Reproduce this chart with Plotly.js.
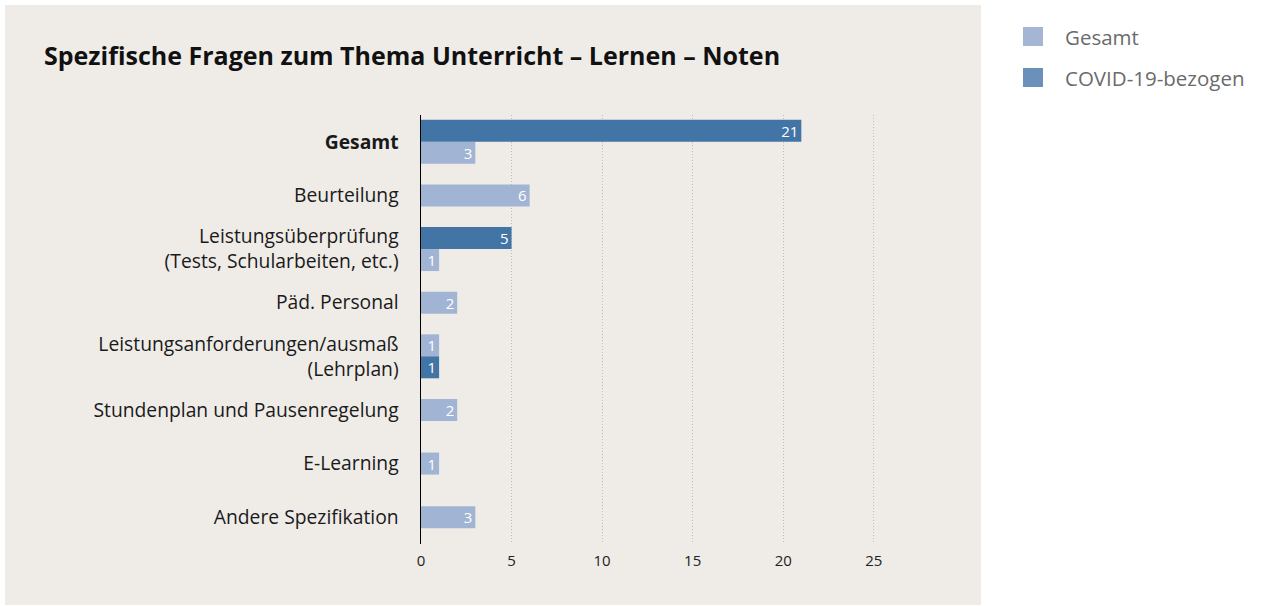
<!DOCTYPE html>
<html>
<head>
<meta charset="utf-8">
<script src="https://cdn.plot.ly/plotly-3.0.1.min.js"></script>
<style>
  html, body { margin: 0; padding: 0; background: #fff; }
  #chart { width: 1264px; height: 606px; }
</style>
</head>
<body>
<div id="chart"></div>
<script>
// categories top to bottom
var categories = [
  '<b>Gesamt</b>',
  'Beurteilung',
  'Leistungsüberprüfung<br>(Tests, Schularbeiten, etc.)',
  'Päd. Personal',
  'Leistungsanforderungen/ausmaß<br>(Lehrplan)',
  'Stundenplan und Pausenregelung',
  'E-Learning',
  'Andere Spezifikation'
];
var gesamt = [3, 6, 1, 2, 1, 2, 1, 3];
var covid = [21, null, 5, null, 1, null, null, null];
// which bar sits on top when both are there
var covidOnTop = [true, false, true, false, false, false, false, false];

var xTicks = [0, 5, 10, 15, 20, 25];

var LIGHT = '#a2b4d3';
var DARK = '#4275a6';
var FONT = '"Open Sans", "Noto Sans", sans-serif';

// plot area in pixels
var W = 1264, H = 606;
var L = 421, R = 910, T = 115, B = 544;
function px(x) { return (x - L) / (R - L); }
function py(y) { return (B - y) / (B - T); }

var bw = 0.41;
var offG = [], offC = [];
for (var i = 0; i < categories.length; i++) {
  if (covid[i] == null) { offG.push(-bw / 2); offC.push(0); }
  else if (covidOnTop[i]) { offC.push(-bw); offG.push(0); }
  else { offG.push(-bw); offC.push(0); }
}

var barText = {color: '#ffffff', size: 15, family: FONT};

var trG = {
  type: 'bar', orientation: 'h', name: 'Gesamt',
  y: categories, x: gesamt,
  width: bw, offset: offG,
  marker: {color: LIGHT},
  text: gesamt, textposition: 'inside', insidetextanchor: 'end',
  textfont: barText, constraintext: 'none', textangle: 0,
  showlegend: false, hoverinfo: 'x'
};
var trC = {
  type: 'bar', orientation: 'h', name: 'COVID-19-bezogen',
  y: categories, x: covid,
  width: bw, offset: offC,
  marker: {color: DARK},
  text: covid.map(function (v) { return v == null ? '' : v; }),
  textposition: 'inside', insidetextanchor: 'end',
  textfont: barText, constraintext: 'none', textangle: 0,
  showlegend: false, hoverinfo: 'x'
};

var shapes = [
  // beige panel
  {type: 'rect', xref: 'paper', yref: 'paper', layer: 'below',
   x0: px(5), x1: px(981), y0: py(605), y1: py(5),
   fillcolor: '#efece8', line: {width: 0}},
  // legend swatches
  {type: 'rect', xref: 'paper', yref: 'paper',
   x0: px(1023), x1: px(1043), y0: py(46), y1: py(27),
   fillcolor: '#a4b6d4', line: {width: 0}},
  {type: 'rect', xref: 'paper', yref: 'paper',
   x0: px(1023), x1: px(1043), y0: py(87), y1: py(68),
   fillcolor: '#6b91bb', line: {width: 0}}
];

var annotations = [
  {xref: 'paper', yref: 'paper', x: px(1063), y: py(37), xanchor: 'left', yanchor: 'middle',
   text: 'Gesamt', showarrow: false, font: {family: FONT, size: 20.5, color: '#6b6b6b'}},
  {xref: 'paper', yref: 'paper', x: px(1063), y: py(78), xanchor: 'left', yanchor: 'middle',
   text: 'COVID-19-bezogen', showarrow: false, font: {family: FONT, size: 20.5, color: '#6b6b6b'}}
];

var layout = {
  width: W, height: H,
  margin: {l: L, r: W - R, t: T, b: H - B, pad: 0},
  paper_bgcolor: '#ffffff',
  plot_bgcolor: 'rgba(0,0,0,0)',
  barmode: 'overlay',
  showlegend: false,
  font: {family: FONT, color: '#1a1a1a'},
  title: {
    text: '<b>Spezifische Fragen zum Thema Unterricht – Lernen – Noten</b>',
    xref: 'container', yref: 'container',
    x: 44 / W, xanchor: 'left', y: 1 - 56 / H, yanchor: 'middle',
    font: {family: FONT, size: 25, color: '#111111'}
  },
  xaxis: {
    range: [0, 27],
    tickvals: xTicks,
    showgrid: true, gridcolor: '#bdbdbd', griddash: '1px,2px', gridwidth: 1,
    zeroline: false, showline: false,
    ticks: '', ticklabelstandoff: 6,
    tickfont: {family: FONT, size: 15, color: '#222222'}
  },
  yaxis: {
    type: 'category',
    autorange: 'reversed',
    showline: true, linecolor: '#000000', linewidth: 1.5,
    showgrid: false, zeroline: false,
    ticks: '', ticklabelstandoff: 17,
    tickfont: {family: FONT, size: 19.3, color: '#1a1a1a'}
  },
  shapes: shapes,
  annotations: annotations
};

Plotly.newPlot('chart', [trG, trC], layout, {displayModeBar: false, staticPlot: true});
</script>
</body>
</html>
